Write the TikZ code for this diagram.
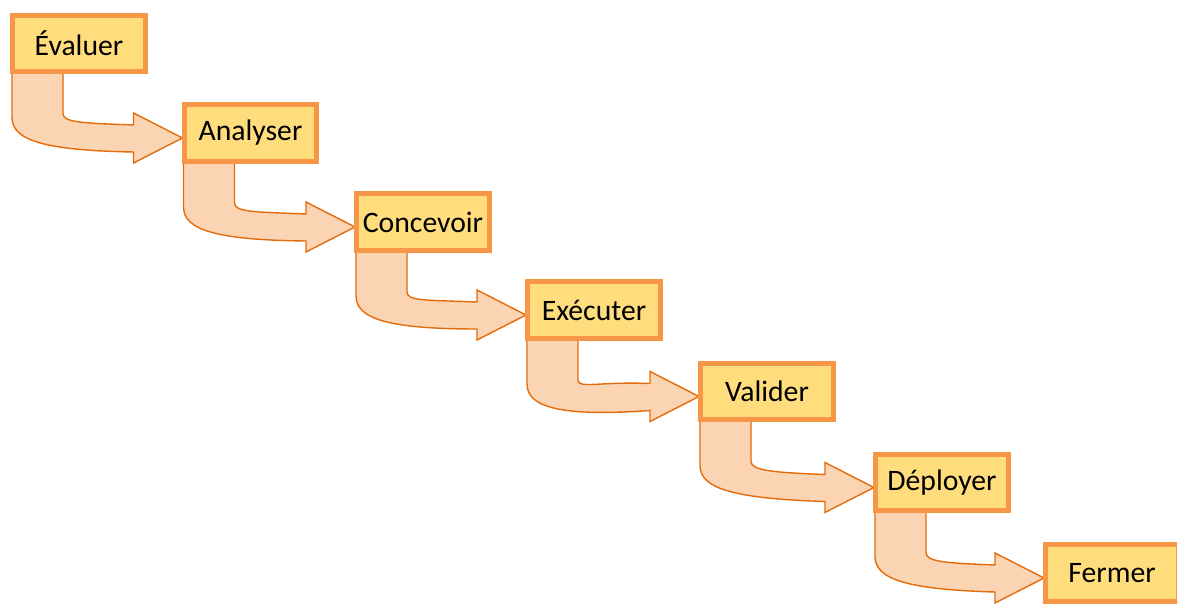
\documentclass[tikz,border=0pt]{standalone}
\usepackage{fontspec}
\setmainfont{Carlito}
\usetikzlibrary{calc,backgrounds}
\definecolor{stagefill}{HTML}{FFDD7D}
\definecolor{stageline}{HTML}{F79646}
\definecolor{flowfill}{HTML}{FBD4B4}
\definecolor{flowline}{HTML}{E46C0A}
\tikzset{
  stage/.style={draw=stageline, fill=stagefill, line width=0.1cm,
    minimum width=2.66cm, minimum height=1.14cm, inner sep=0pt,
    font=\fontsize{16.9}{19}\selectfont},
  flow/.style={draw=flowline, fill=flowfill, line width=0.8pt, line join=miter}
}
% bent arrow leaving the bottom of #1 and pointing at the left side of #2
\newcommand\stageflow[2]{%
  \coordinate (s) at (#1.south west);
  \coordinate (t) at (#2.west);
  \draw[flow] ($(s)+(2,-3)$) -- ($(s)+(2,43)$)
    .. controls ($(s)+(2,66)$) and ($(s)+(35,76)$) .. ($(t)+(-48,19)$)
    -- ($(t)+(-48,30)$) -- ($(t)+(1,5)$) -- ($(t)+(-48,-20)$) -- ($(t)+(-48,-8)$)
    .. controls ($(t)+(-100,-10)$) and ($(s)+(53,48)$) .. ($(s)+(53,39)$)
    -- ($(s)+(53,-3)$) -- cycle;
}
\begin{document}
\begin{tikzpicture}[x=0.02cm, y=-0.02cm]
\useasboundingbox (0,0) rectangle (1177,604);
\node[stage] (n1) at (79,43.5) {Évaluer};
\node[stage] (n2) at (250.5,133) {Analyser};
\node[stage] (n3) at (423,222) {Concevoir};
\node[stage] (n4) at (594,310) {Exécuter};
\node[stage] (n5) at (767,391.5) {Valider};
\node[stage] (n6) at (942,482.5) {Déployer};
\node[stage] (n7) at (1112,573) {Fermer};
\begin{scope}[on background layer]
  \stageflow{n1}{n2}
  \stageflow{n2}{n3}
  \stageflow{n3}{n4}
  \stageflow{n4}{n5}
  \stageflow{n5}{n6}
  \stageflow{n6}{n7}
\end{scope}
\end{tikzpicture}
\end{document}
